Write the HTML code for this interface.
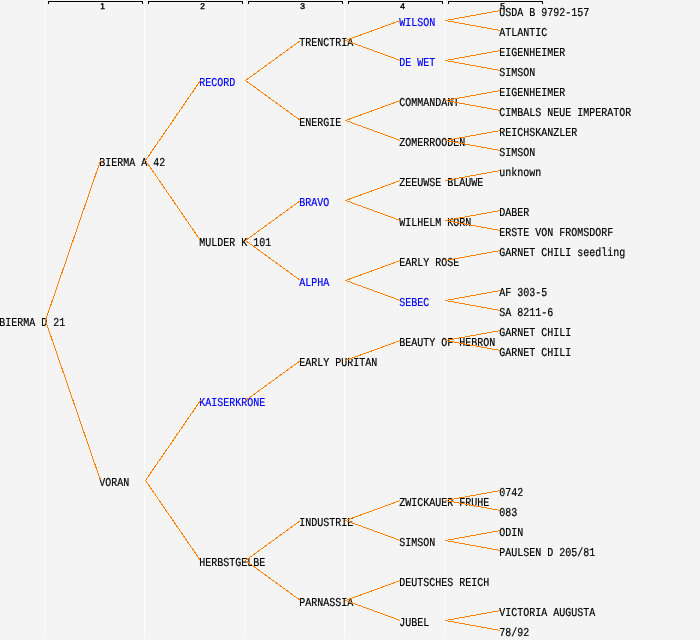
<!DOCTYPE html>
<html lang="en"><head><meta charset="utf-8"><title>Pedigree of BIERMA D 21</title>
<style>
html,body{margin:0;padding:0;background:#f4f4f4;}
body{width:700px;height:640px;position:relative;overflow:hidden;}
svg{position:absolute;left:0;top:0;display:block;}
.n{font-family:"Liberation Mono","DejaVu Sans Mono",monospace;font-size:10px;fill:#000;stroke:#000;stroke-width:.16px;white-space:pre;text-rendering:geometricPrecision;}
.b{fill:#0000ff;stroke:#0000ff;stroke-width:.18px;}
.h{font-family:"Liberation Sans",sans-serif;font-size:8.4px;fill:#000;stroke:#000;stroke-width:.4px;text-rendering:geometricPrecision;}
</style></head><body>
<svg width="700" height="640" viewBox="0 0 700 640">
<rect x="0" y="0" width="700" height="640" fill="#f4f4f4"/>

<g stroke="#fefefe" stroke-width="1" shape-rendering="crispEdges">
<line x1="44.5" y1="0" x2="44.5" y2="638"/>
<line x1="144.5" y1="0" x2="144.5" y2="638"/>
<line x1="244.5" y1="0" x2="244.5" y2="638"/>
<line x1="344.5" y1="0" x2="344.5" y2="638"/>
<line x1="444.5" y1="0" x2="444.5" y2="638"/>
</g>
<g stroke="#000" stroke-width="1" fill="none" shape-rendering="crispEdges">
<path d="M48.5 4V1.5H142.5V4"/>
<path d="M148.5 4V1.5H242.5V4"/>
<path d="M248.5 4V1.5H342.5V4"/>
<path d="M348.5 4V1.5H442.5V4"/>
<path d="M448.5 4V1.5H542.5V4"/>
</g>
<text class="h" x="100.3" y="9">1</text>
<text class="h" x="200.3" y="9">2</text>
<text class="h" x="300.3" y="9">3</text>
<text class="h" x="400.3" y="9">4</text>
<text class="h" x="500.3" y="9">5</text>
<text class="n" transform="translate(-0.75 326) scale(1 1.2)">BIERMA D 21</text>
<text class="n" transform="translate(99.25 166) scale(1 1.2)">BIERMA A 42</text>
<text class="n" transform="translate(99.25 486) scale(1 1.2)">VORAN</text>
<text class="n b" transform="translate(199.25 86) scale(1 1.2)">RECORD</text>
<text class="n" transform="translate(199.25 246) scale(1 1.2)">MULDER K 101</text>
<text class="n b" transform="translate(199.25 406) scale(1 1.2)">KAISERKRONE</text>
<text class="n" transform="translate(199.25 566) scale(1 1.2)">HERBSTGELBE</text>
<text class="n" transform="translate(299.25 46) scale(1 1.2)">TRENCTRIA</text>
<text class="n" transform="translate(299.25 126) scale(1 1.2)">ENERGIE</text>
<text class="n b" transform="translate(299.25 206) scale(1 1.2)">BRAVO</text>
<text class="n b" transform="translate(299.25 286) scale(1 1.2)">ALPHA</text>
<text class="n" transform="translate(299.25 366) scale(1 1.2)">EARLY PURITAN</text>
<text class="n" transform="translate(299.25 526) scale(1 1.2)">INDUSTRIE</text>
<text class="n" transform="translate(299.25 606) scale(1 1.2)">PARNASSIA</text>
<text class="n b" transform="translate(399.25 26) scale(1 1.2)">WILSON</text>
<text class="n b" transform="translate(399.25 66) scale(1 1.2)">DE WET</text>
<text class="n" transform="translate(399.25 106) scale(1 1.2)">COMMANDANT</text>
<text class="n" transform="translate(399.25 146) scale(1 1.2)">ZOMERROODEN</text>
<text class="n" transform="translate(399.25 186) scale(1 1.2)">ZEEUWSE BLAUWE</text>
<text class="n" transform="translate(399.25 226) scale(1 1.2)">WILHELM KORN</text>
<text class="n" transform="translate(399.25 266) scale(1 1.2)">EARLY ROSE</text>
<text class="n b" transform="translate(399.25 306) scale(1 1.2)">SEBEC</text>
<text class="n" transform="translate(399.25 346) scale(1 1.2)">BEAUTY OF HEBRON</text>
<text class="n" transform="translate(399.25 506) scale(1 1.2)">ZWICKAUER FRUHE</text>
<text class="n" transform="translate(399.25 546) scale(1 1.2)">SIMSON</text>
<text class="n" transform="translate(399.25 586) scale(1 1.2)">DEUTSCHES REICH</text>
<text class="n" transform="translate(399.25 626) scale(1 1.2)">JUBEL</text>
<text class="n" transform="translate(499.25 16) scale(1 1.2)">USDA B 9792-157</text>
<text class="n" transform="translate(499.25 36) scale(1 1.2)">ATLANTIC</text>
<text class="n" transform="translate(499.25 56) scale(1 1.2)">EIGENHEIMER</text>
<text class="n" transform="translate(499.25 76) scale(1 1.2)">SIMSON</text>
<text class="n" transform="translate(499.25 96) scale(1 1.2)">EIGENHEIMER</text>
<text class="n" transform="translate(499.25 116) scale(1 1.2)">CIMBALS NEUE IMPERATOR</text>
<text class="n" transform="translate(499.25 136) scale(1 1.2)">REICHSKANZLER</text>
<text class="n" transform="translate(499.25 156) scale(1 1.2)">SIMSON</text>
<text class="n" transform="translate(499.25 176) scale(1 1.2)">unknown</text>
<text class="n" transform="translate(499.25 216) scale(1 1.2)">DABER</text>
<text class="n" transform="translate(499.25 236) scale(1 1.2)">ERSTE VON FROMSDORF</text>
<text class="n" transform="translate(499.25 256) scale(1 1.2)">GARNET CHILI seedling</text>
<text class="n" transform="translate(499.25 296) scale(1 1.2)">AF 303-5</text>
<text class="n" transform="translate(499.25 316) scale(1 1.2)">SA 8211-6</text>
<text class="n" transform="translate(499.25 336) scale(1 1.2)">GARNET CHILI</text>
<text class="n" transform="translate(499.25 356) scale(1 1.2)">GARNET CHILI</text>
<text class="n" transform="translate(499.25 496) scale(1 1.2)">0742</text>
<text class="n" transform="translate(499.25 516) scale(1 1.2)">083</text>
<text class="n" transform="translate(499.25 536) scale(1 1.2)">ODIN</text>
<text class="n" transform="translate(499.25 556) scale(1 1.2)">PAULSEN D 205/81</text>
<text class="n" transform="translate(499.25 616) scale(1 1.2)">VICTORIA AUGUSTA</text>
<text class="n" transform="translate(499.25 636) scale(1 1.2)">78/92</text>
<g stroke="#ff8000" stroke-width="1" fill="none" shape-rendering="crispEdges">
<line x1="45.5" y1="320.5" x2="100.5" y2="160.5"/>
<line x1="45.5" y1="320.5" x2="100.5" y2="480.5"/>
<line x1="145.5" y1="160.5" x2="200.5" y2="80.5"/>
<line x1="145.5" y1="160.5" x2="200.5" y2="240.5"/>
<line x1="145.5" y1="480.5" x2="200.5" y2="400.5"/>
<line x1="145.5" y1="480.5" x2="200.5" y2="560.5"/>
<line x1="245.5" y1="80.5" x2="300.5" y2="40.5"/>
<line x1="245.5" y1="80.5" x2="300.5" y2="120.5"/>
<line x1="245.5" y1="240.5" x2="300.5" y2="200.5"/>
<line x1="245.5" y1="240.5" x2="300.5" y2="280.5"/>
<line x1="245.5" y1="400.5" x2="300.5" y2="360.5"/>
<line x1="245.5" y1="560.5" x2="300.5" y2="520.5"/>
<line x1="245.5" y1="560.5" x2="300.5" y2="600.5"/>
<line x1="345.5" y1="40.5" x2="400.5" y2="20.5"/>
<line x1="345.5" y1="40.5" x2="400.5" y2="60.5"/>
<line x1="345.5" y1="120.5" x2="400.5" y2="100.5"/>
<line x1="345.5" y1="120.5" x2="400.5" y2="140.5"/>
<line x1="345.5" y1="200.5" x2="400.5" y2="180.5"/>
<line x1="345.5" y1="200.5" x2="400.5" y2="220.5"/>
<line x1="345.5" y1="280.5" x2="400.5" y2="260.5"/>
<line x1="345.5" y1="280.5" x2="400.5" y2="300.5"/>
<line x1="345.5" y1="360.5" x2="400.5" y2="340.5"/>
<line x1="345.5" y1="520.5" x2="400.5" y2="500.5"/>
<line x1="345.5" y1="520.5" x2="400.5" y2="540.5"/>
<line x1="345.5" y1="600.5" x2="400.5" y2="580.5"/>
<line x1="345.5" y1="600.5" x2="400.5" y2="620.5"/>
<line x1="445.5" y1="20.5" x2="500.5" y2="10.5"/>
<line x1="445.5" y1="20.5" x2="500.5" y2="30.5"/>
<line x1="445.5" y1="60.5" x2="500.5" y2="50.5"/>
<line x1="445.5" y1="60.5" x2="500.5" y2="70.5"/>
<line x1="445.5" y1="100.5" x2="500.5" y2="90.5"/>
<line x1="445.5" y1="100.5" x2="500.5" y2="110.5"/>
<line x1="445.5" y1="140.5" x2="500.5" y2="130.5"/>
<line x1="445.5" y1="140.5" x2="500.5" y2="150.5"/>
<line x1="445.5" y1="180.5" x2="500.5" y2="170.5"/>
<line x1="445.5" y1="220.5" x2="500.5" y2="210.5"/>
<line x1="445.5" y1="220.5" x2="500.5" y2="230.5"/>
<line x1="445.5" y1="260.5" x2="500.5" y2="250.5"/>
<line x1="445.5" y1="300.5" x2="500.5" y2="290.5"/>
<line x1="445.5" y1="300.5" x2="500.5" y2="310.5"/>
<line x1="445.5" y1="340.5" x2="500.5" y2="330.5"/>
<line x1="445.5" y1="340.5" x2="500.5" y2="350.5"/>
<line x1="445.5" y1="500.5" x2="500.5" y2="490.5"/>
<line x1="445.5" y1="500.5" x2="500.5" y2="510.5"/>
<line x1="445.5" y1="540.5" x2="500.5" y2="530.5"/>
<line x1="445.5" y1="540.5" x2="500.5" y2="550.5"/>
<line x1="445.5" y1="620.5" x2="500.5" y2="610.5"/>
<line x1="445.5" y1="620.5" x2="500.5" y2="630.5"/>
</g>
</svg></body></html>
